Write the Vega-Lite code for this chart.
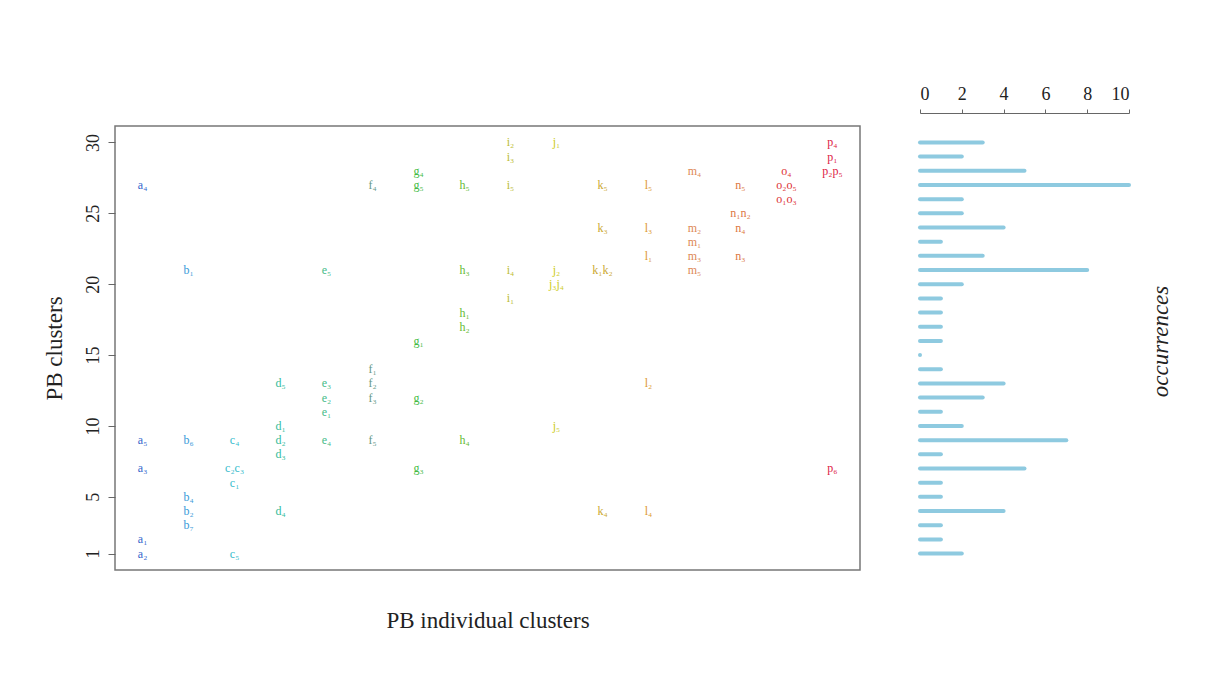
{
  "$schema": "https://vega.github.io/schema/vega-lite/v6.json",
  "background": "white",
  "padding": {"left": 42, "top": 85, "right": 5, "bottom": 5},
  "config": {"font": "Liberation Serif", "view": {"stroke": null}},
  "spacing": 60,
  "bounds": "flush",
  "datasets": {
    "labels": [
      {"col": 1, "cluster": 27, "label": "a₄", "letter": "a"},
      {"col": 1, "cluster": 9, "label": "a₅", "letter": "a"},
      {"col": 1, "cluster": 7, "label": "a₃", "letter": "a"},
      {"col": 1, "cluster": 2, "label": "a₁", "letter": "a"},
      {"col": 1, "cluster": 1, "label": "a₂", "letter": "a"},
      {"col": 2, "cluster": 21, "label": "b₁", "letter": "b"},
      {"col": 2, "cluster": 9, "label": "b₆", "letter": "b"},
      {"col": 2, "cluster": 5, "label": "b₄", "letter": "b"},
      {"col": 2, "cluster": 4, "label": "b₂", "letter": "b"},
      {"col": 2, "cluster": 3, "label": "b₇", "letter": "b"},
      {"col": 3, "cluster": 9, "label": "c₄", "letter": "c"},
      {"col": 3, "cluster": 7, "label": "c₂c₃", "letter": "c"},
      {"col": 3, "cluster": 6, "label": "c₁", "letter": "c"},
      {"col": 3, "cluster": 1, "label": "c₅", "letter": "c"},
      {"col": 4, "cluster": 13, "label": "d₅", "letter": "d"},
      {"col": 4, "cluster": 10, "label": "d₁", "letter": "d"},
      {"col": 4, "cluster": 9, "label": "d₂", "letter": "d"},
      {"col": 4, "cluster": 8, "label": "d₃", "letter": "d"},
      {"col": 4, "cluster": 4, "label": "d₄", "letter": "d"},
      {"col": 5, "cluster": 21, "label": "e₅", "letter": "e"},
      {"col": 5, "cluster": 13, "label": "e₃", "letter": "e"},
      {"col": 5, "cluster": 12, "label": "e₂", "letter": "e"},
      {"col": 5, "cluster": 11, "label": "e₁", "letter": "e"},
      {"col": 5, "cluster": 9, "label": "e₄", "letter": "e"},
      {"col": 6, "cluster": 27, "label": "f₄", "letter": "f"},
      {"col": 6, "cluster": 14, "label": "f₁", "letter": "f"},
      {"col": 6, "cluster": 13, "label": "f₂", "letter": "f"},
      {"col": 6, "cluster": 12, "label": "f₃", "letter": "f"},
      {"col": 6, "cluster": 9, "label": "f₅", "letter": "f"},
      {"col": 7, "cluster": 28, "label": "g₄", "letter": "g"},
      {"col": 7, "cluster": 27, "label": "g₅", "letter": "g"},
      {"col": 7, "cluster": 16, "label": "g₁", "letter": "g"},
      {"col": 7, "cluster": 12, "label": "g₂", "letter": "g"},
      {"col": 7, "cluster": 7, "label": "g₃", "letter": "g"},
      {"col": 8, "cluster": 27, "label": "h₅", "letter": "h"},
      {"col": 8, "cluster": 21, "label": "h₃", "letter": "h"},
      {"col": 8, "cluster": 18, "label": "h₁", "letter": "h"},
      {"col": 8, "cluster": 17, "label": "h₂", "letter": "h"},
      {"col": 8, "cluster": 9, "label": "h₄", "letter": "h"},
      {"col": 9, "cluster": 30, "label": "i₂", "letter": "i"},
      {"col": 9, "cluster": 29, "label": "i₃", "letter": "i"},
      {"col": 9, "cluster": 27, "label": "i₅", "letter": "i"},
      {"col": 9, "cluster": 21, "label": "i₄", "letter": "i"},
      {"col": 9, "cluster": 19, "label": "i₁", "letter": "i"},
      {"col": 10, "cluster": 30, "label": "j₁", "letter": "j"},
      {"col": 10, "cluster": 21, "label": "j₂", "letter": "j"},
      {"col": 10, "cluster": 20, "label": "j₃j₄", "letter": "j"},
      {"col": 10, "cluster": 10, "label": "j₅", "letter": "j"},
      {"col": 11, "cluster": 27, "label": "k₅", "letter": "k"},
      {"col": 11, "cluster": 24, "label": "k₃", "letter": "k"},
      {"col": 11, "cluster": 21, "label": "k₁k₂", "letter": "k"},
      {"col": 11, "cluster": 4, "label": "k₄", "letter": "k"},
      {"col": 12, "cluster": 27, "label": "l₅", "letter": "l"},
      {"col": 12, "cluster": 24, "label": "l₃", "letter": "l"},
      {"col": 12, "cluster": 22, "label": "l₁", "letter": "l"},
      {"col": 12, "cluster": 13, "label": "l₂", "letter": "l"},
      {"col": 12, "cluster": 4, "label": "l₄", "letter": "l"},
      {"col": 13, "cluster": 28, "label": "m₄", "letter": "m"},
      {"col": 13, "cluster": 24, "label": "m₂", "letter": "m"},
      {"col": 13, "cluster": 23, "label": "m₁", "letter": "m"},
      {"col": 13, "cluster": 22, "label": "m₃", "letter": "m"},
      {"col": 13, "cluster": 21, "label": "m₅", "letter": "m"},
      {"col": 14, "cluster": 27, "label": "n₅", "letter": "n"},
      {"col": 14, "cluster": 25, "label": "n₁n₂", "letter": "n"},
      {"col": 14, "cluster": 24, "label": "n₄", "letter": "n"},
      {"col": 14, "cluster": 22, "label": "n₃", "letter": "n"},
      {"col": 15, "cluster": 28, "label": "o₄", "letter": "o"},
      {"col": 15, "cluster": 27, "label": "o₂o₅", "letter": "o"},
      {"col": 15, "cluster": 26, "label": "o₁o₃", "letter": "o"},
      {"col": 16, "cluster": 30, "label": "p₄", "letter": "p"},
      {"col": 16, "cluster": 29, "label": "p₁", "letter": "p"},
      {"col": 16, "cluster": 28, "label": "p₂p₅", "letter": "p"},
      {"col": 16, "cluster": 7, "label": "p₆", "letter": "p"}
    ],
    "occ": [
      {"cluster": 30, "occ": 3},
      {"cluster": 29, "occ": 2},
      {"cluster": 28, "occ": 5},
      {"cluster": 27, "occ": 10},
      {"cluster": 26, "occ": 2},
      {"cluster": 25, "occ": 2},
      {"cluster": 24, "occ": 4},
      {"cluster": 23, "occ": 1},
      {"cluster": 22, "occ": 3},
      {"cluster": 21, "occ": 8},
      {"cluster": 20, "occ": 2},
      {"cluster": 19, "occ": 1},
      {"cluster": 18, "occ": 1},
      {"cluster": 17, "occ": 1},
      {"cluster": 16, "occ": 1},
      {"cluster": 15, "occ": 0},
      {"cluster": 14, "occ": 1},
      {"cluster": 13, "occ": 4},
      {"cluster": 12, "occ": 3},
      {"cluster": 11, "occ": 1},
      {"cluster": 10, "occ": 2},
      {"cluster": 9, "occ": 7},
      {"cluster": 8, "occ": 1},
      {"cluster": 7, "occ": 5},
      {"cluster": 6, "occ": 1},
      {"cluster": 5, "occ": 1},
      {"cluster": 4, "occ": 4},
      {"cluster": 3, "occ": 1},
      {"cluster": 2, "occ": 1},
      {"cluster": 1, "occ": 2}
    ]
  },
  "hconcat": [
    {
      "width": 745,
      "height": 444,
      "view": {"stroke": "#777777", "strokeWidth": 1.5},
      "data": {"name": "labels"},
      "mark": {"type": "text", "fontSize": 12, "font": "Liberation Serif"},
      "encoding": {
        "x": {
          "field": "col", "type": "quantitative",
          "scale": {"domain": [0.4, 16.6], "nice": false, "zero": false},
          "axis": {"title": "PB individual clusters", "labels": false, "ticks": false, "domain": false, "grid": false,
                   "titleFontSize": 23, "titleFontWeight": "normal", "titleColor": "#222222", "titleFont": "Liberation Serif",
                   "titleY": 50, "titleBaseline": "middle"}
        },
        "y": {
          "field": "cluster", "type": "quantitative",
          "scale": {"domain": [-0.16, 31.16], "nice": false, "zero": false},
          "axis": {"values": [1, 5, 10, 15, 20, 25, 30], "labelAngle": 270, "labelFontSize": 18, "labelPadding": 6,
                   "labelColor": "#222222", "labelFont": "Liberation Serif",
                   "tickSize": 7, "tickColor": "#666666", "domain": false, "grid": false,
                   "title": "PB clusters", "titleFontSize": 23, "titleFontWeight": "normal", "titleColor": "#222222",
                   "titleFont": "Liberation Serif", "titleX": -61, "titleY": 222, "titleAngle": 270,
                   "titleAlign": "center", "titleBaseline": "middle"}
        },
        "text": {"field": "label"},
        "color": {
          "field": "letter", "type": "nominal", "legend": null,
          "scale": {
            "domain": ["a","b","c","d","e","f","g","h","i","j","k","l","m","n","o","p"],
            "range": ["#3366cc","#3a9ad9","#33bbcc","#33bb99","#44bb88","#669988","#44bb44","#66bb33","#bbbb33","#cccc22","#ccaa33","#dd9933","#dd8855","#dd7744","#dd3333","#dd2244"]
          }
        }
      }
    },
    {
      "width": 209,
      "height": 444,
      "data": {"name": "occ"},
      "mark": {"type": "rule", "strokeWidth": 4, "strokeCap": "round", "color": "#8ecae0"},
      "encoding": {
        "x": {
          "field": "occ", "type": "quantitative",
          "scale": {"domain": [0, 10], "nice": false},
          "axis": {"orient": "top", "values": [0, 2, 4, 6, 8, 10], "offset": 13, "tickSize": 4, "labelFontSize": 18,
                   "labelPadding": 6, "labelColor": "#222222", "labelFont": "Liberation Serif",
                   "domainColor": "#666666", "tickColor": "#666666", "grid": false, "title": null}
        },
        "x2": {"datum": 0},
        "y": {
          "field": "cluster", "type": "quantitative",
          "scale": {"domain": [-0.16, 31.16], "nice": false, "zero": false},
          "axis": {"orient": "right", "labels": false, "ticks": false, "domain": false, "grid": false,
                   "title": "occurrences", "titleFontSize": 23, "titleFontStyle": "italic", "titleFontWeight": "normal",
                   "titleColor": "#222222", "titleFont": "Liberation Serif", "titleAngle": 270,
                   "titleX": 31, "titleY": 215, "titleAlign": "center", "titleBaseline": "middle"}
        }
      }
    }
  ]
}
